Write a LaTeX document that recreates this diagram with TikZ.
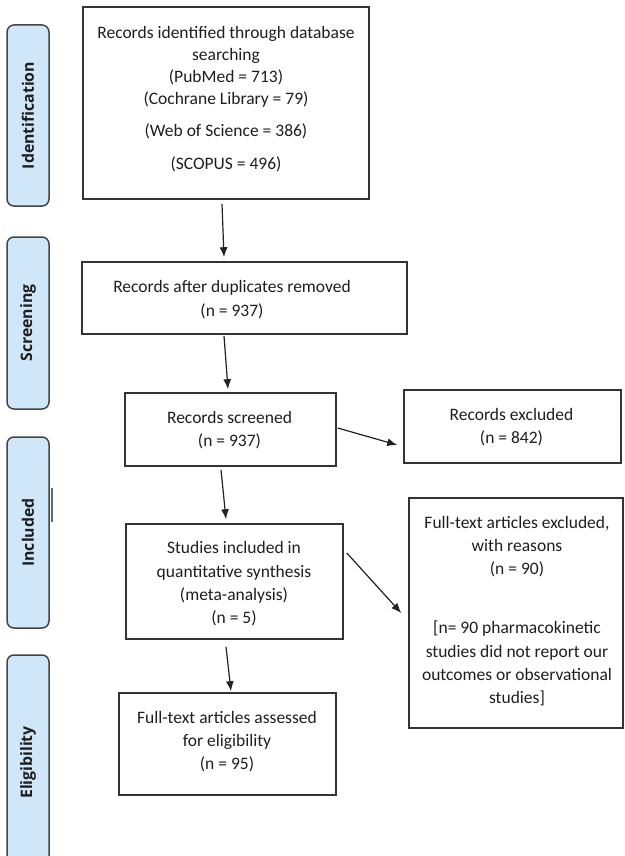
\documentclass[tikz,border=0pt]{standalone}
\usepackage{fontspec}
\setmainfont{Carlito}
\newfontfamily\lblfont{Open Sans}
\usetikzlibrary{arrows.meta,calc}
\definecolor{boxc}{HTML}{333333}
\definecolor{txtc}{HTML}{1E1E1E}
\definecolor{sidec}{HTML}{454545}
\definecolor{sidefill}{HTML}{CFE7F8}
\definecolor{arrc}{HTML}{222222}
\begin{document}
\begin{tikzpicture}[x=1pt,y=-1pt,
  box/.style={draw=boxc, line width=1.6pt, rectangle, inner sep=0pt},
  txt/.style={align=center, font=\fontsize{17.5}{23.3}\selectfont, text=txtc, inner sep=0pt},
  side/.style={draw=sidec, line width=1.5pt, fill=sidefill, rounded corners=7pt, rotate=90,
     font=\lblfont\bfseries\fontsize{15.8}{18}\selectfont, text=txtc, inner sep=0pt},
  arr/.style={-{Latex[length=10pt,width=8pt]}, line width=1.2pt, draw=arrc}]
\useasboundingbox (0,0) rectangle (624,856);
\fill[white] (0,0) rectangle (624,856);

% side labels
\begin{scope}
\clip (0,0) rectangle (624,856);
\node[side, minimum width=181pt, minimum height=42pt] (sIdent) at (28,115.5) {\raisebox{-1.5pt}{Identification}};
\node[side, minimum width=172pt, minimum height=42pt] (sScreen) at (28,323) {\raisebox{-1.5pt}{Screening}};
\node[side, minimum width=191pt, minimum height=42pt] (sIncl) at (28,532.5) {\raisebox{-1.5pt}{Included}};
\node[side, minimum width=215pt, minimum height=42pt] (sElig) at (28,762.5) {\raisebox{-1.5pt}{Eligibility}};
\end{scope}
\draw[line width=2pt, draw=sidec!80] ($(sIncl.south)+(2,-44.5)$) coordinate (mkA) -- ($(sIncl.south)+(2,-10.5)$) coordinate (mkB);

% boxes
\node[box, minimum width=286pt, minimum height=192pt] (b1) at (226,103) {};
\node[txt, font=\fontsize{17.5}{22}\selectfont] (t1) at (226,99.5) {Records identified through database\\searching\\(PubMed = 713)\\(Cochrane Library = 79)\\[10pt](Web of Science = 386)\\[11pt](SCOPUS = 496)};

\node[box, minimum width=325pt, minimum height=72pt] (b2) at (244.5,298) {};
\node[txt] (t2) at (232,299.5) {Records after duplicates removed\\(n = 937)};

\node[box, minimum width=211pt, minimum height=73pt] (b3) at (230.5,429.5) {};
\node[txt] (t3) at (229.5,430) {Records screened\\(n = 937)};

\node[box, minimum width=217pt, minimum height=73pt] (ex) at (512.5,426.5) {};
\node[txt] (tex) at (511.5,427) {Records excluded\\(n = 842)};

\node[box, minimum width=217pt, minimum height=115pt] (st) at (234.5,581.5) {};
\node[txt] (tst) at (234,584) {Studies included in\\quantitative synthesis\\(meta-analysis)\\(n = 5)};

\node[box, minimum width=214pt, minimum height=230pt] (fe) at (516,613) {};
\node[txt] (tfe) at (517,611) {Full-text articles excluded,\\with reasons\\(n = 90)\\[35.7pt][n= 90 pharmacokinetic\\studies did not report our\\outcomes or observational\\studies]};

\node[box, minimum width=217pt, minimum height=102pt] (fa) at (227.5,744) {};
\node[txt] (tfa) at (227,741.5) {Full-text articles assessed\\for eligibility\\(n = 95)};

% arrows
\draw[arr] ([shift={(-4,4)}]b1.south) -- ([shift={(-20.5,-4)}]b2.north);
\draw[arr] ([shift={(-20.5,1)}]b2.south) -- ([shift={(-2.5,-3)}]b3.north);
\draw[arr] ([shift={(1,-1.5)}]b3.east) -- ([shift={(-6,18.5)}]ex.west);
\draw[arr] ([shift={(-9.5,3)}]b3.south) -- ([shift={(-8.5,-4)}]st.north);
\draw[arr] ([shift={(3,-28.5)}]st.east) -- ([shift={(-7,0)}]fe.west);
\draw[arr] ([shift={(-8.5,7)}]st.south) -- ([shift={(3.5,-1)}]fa.north);
\end{tikzpicture}
\end{document}
